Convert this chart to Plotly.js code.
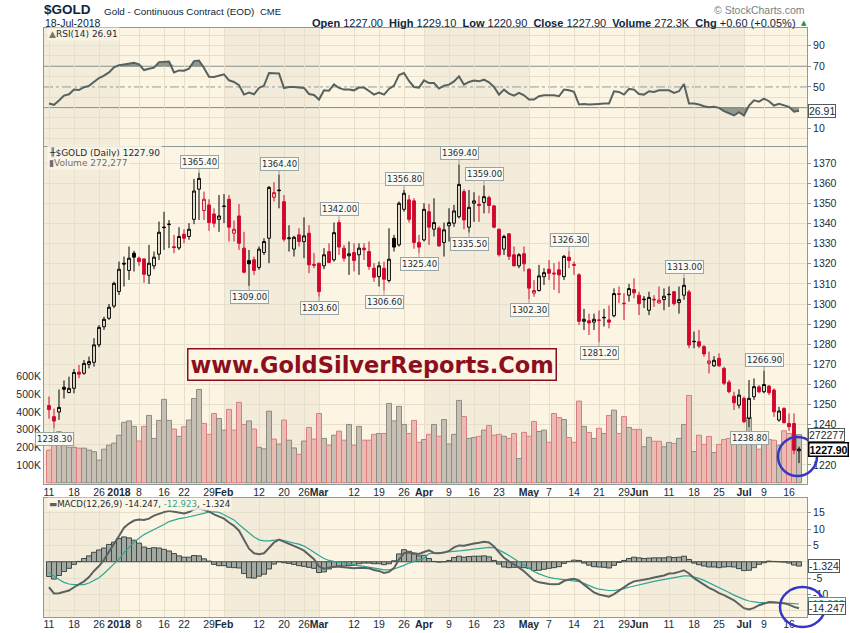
<!DOCTYPE html>
<html><head><meta charset="utf-8">
<script src="https://cdn.plot.ly/plotly-3.0.1.min.js"></script>
<style>html,body{margin:0;padding:0;background:#fff}#chart{width:850px;height:633px}</style>
</head><body><div id="chart"></div>
<script>
const dates = ["2017-12-11","2017-12-12","2017-12-13","2017-12-14","2017-12-15","2017-12-18","2017-12-19","2017-12-20","2017-12-21","2017-12-22","2017-12-26","2017-12-27","2017-12-28","2017-12-29",
"2018-01-02","2018-01-03","2018-01-04","2018-01-05","2018-01-08","2018-01-09","2018-01-10","2018-01-11","2018-01-12","2018-01-16","2018-01-17","2018-01-18","2018-01-19","2018-01-22","2018-01-23","2018-01-24","2018-01-25","2018-01-26","2018-01-29","2018-01-30","2018-01-31",
"2018-02-01","2018-02-02","2018-02-05","2018-02-06","2018-02-07","2018-02-08","2018-02-09","2018-02-12","2018-02-13","2018-02-14","2018-02-15","2018-02-16","2018-02-20","2018-02-21","2018-02-22","2018-02-23","2018-02-26","2018-02-27","2018-02-28",
"2018-03-01","2018-03-02","2018-03-05","2018-03-06","2018-03-07","2018-03-08","2018-03-09","2018-03-12","2018-03-13","2018-03-14","2018-03-15","2018-03-16","2018-03-19","2018-03-20","2018-03-21","2018-03-22","2018-03-23","2018-03-26","2018-03-27","2018-03-28","2018-03-29",
"2018-04-02","2018-04-03","2018-04-04","2018-04-05","2018-04-06","2018-04-09","2018-04-10","2018-04-11","2018-04-12","2018-04-13","2018-04-16","2018-04-17","2018-04-18","2018-04-19","2018-04-20","2018-04-23","2018-04-24","2018-04-25","2018-04-26","2018-04-27","2018-04-30",
"2018-05-01","2018-05-02","2018-05-03","2018-05-04","2018-05-07","2018-05-08","2018-05-09","2018-05-10","2018-05-11","2018-05-14","2018-05-15","2018-05-16","2018-05-17","2018-05-18","2018-05-21","2018-05-22","2018-05-23","2018-05-24","2018-05-25","2018-05-29","2018-05-30","2018-05-31",
"2018-06-01","2018-06-04","2018-06-05","2018-06-06","2018-06-07","2018-06-08","2018-06-11","2018-06-12","2018-06-13","2018-06-14","2018-06-15","2018-06-18","2018-06-19","2018-06-20","2018-06-21","2018-06-22","2018-06-25","2018-06-26","2018-06-27","2018-06-28","2018-06-29",
"2018-07-02","2018-07-03","2018-07-05","2018-07-06","2018-07-09","2018-07-10","2018-07-11","2018-07-12","2018-07-13","2018-07-16","2018-07-17","2018-07-18"];

const open = [1249.5,1244.0,1246.3,1258.6,1256.0,1258.1,1266.1,1265.6,1270.0,1271.0,
1279.7,1288.7,1292.9,1299.0,1306.2,1320.3,1316.7,1325.3,1322.8,1322.4,
1314.3,1319.0,1324.8,1338.3,1339.5,1328.5,1327.9,1334.7,1333.6,1342.1,
1357.1,1346.5,1349.3,1344.8,1342.1,1348.8,1352.1,1335.2,1343.8,1327.8,
1321.6,1322.0,1318.2,1325.6,1332.7,1353.1,1356.7,1350.9,1332.5,1327.3,
1334.4,1331.0,1335.2,1319.7,1320.3,1319.0,1326.1,1322.0,1340.5,1327.8,
1324.0,1325.6,1324.5,1327.8,1326.1,1317.8,1313.6,1317.8,1311.7,1332.7,
1329.4,1347.1,1351.8,1351.3,1330.6,1331.9,1345.9,1337.2,1337.7,1330.6,
1338.9,1340.2,1343.4,1355.9,1338.2,1350.1,1349.6,1350.5,1352.9,1348.8,
1337.2,1327.3,1334.9,1324.5,1319.0,1325.0,1317.3,1305.4,1306.7,1313.6,
1317.3,1315.4,1317.0,1313.6,1323.3,1319.7,1314.5,1291.4,1291.7,1291.0,
1292.1,1293.4,1292.1,1294.2,1305.1,1300.4,1304.4,1307.2,1304.4,1302.5,
1296.9,1302.4,1300.5,1302.2,1304.9,1306.1,1300.7,1304.4,1306.0,1281.5,
1281.3,1278.8,1270.5,1269.3,1273.0,1268.0,1261.1,1254.2,1249.7,1253.1,
1243.1,1253.9,1258.8,1256.4,1259.2,1257.2,1242.3,1248.1,1240.6,1240.6,
1227.0];
const high = [1254.0,1248.0,1257.5,1262.0,1263.9,1267.7,1269.7,1272.2,1273.9,1283.0,
1289.5,1293.7,1300.0,1311.1,1321.1,1323.6,1328.6,1326.5,1323.6,1322.8,
1329.4,1326.1,1341.0,1345.9,1341.8,1334.4,1338.2,1337.2,1340.2,1362.2,
1365.4,1355.9,1352.1,1347.6,1354.2,1354.7,1354.2,1341.5,1349.8,1335.9,
1326.9,1323.6,1328.6,1332.7,1358.7,1360.6,1364.4,1354.2,1339.2,1333.9,
1337.7,1343.1,1339.2,1325.3,1320.5,1327.8,1330.2,1340.5,1342.0,1329.4,
1331.1,1330.2,1330.2,1330.2,1331.1,1320.3,1321.1,1321.1,1337.7,1334.4,
1351.0,1356.8,1354.2,1352.6,1334.4,1350.1,1349.8,1352.6,1338.7,1340.5,
1347.6,1349.3,1369.4,1357.1,1356.7,1355.6,1353.9,1359.0,1353.9,1349.3,
1337.5,1334.4,1335.2,1328.6,1325.3,1328.6,1317.8,1311.9,1319.5,1317.8,
1321.9,1320.3,1321.1,1324.4,1326.3,1321.1,1315.3,1297.6,1295.2,1295.2,
1296.8,1297.6,1299.3,1307.8,1308.7,1305.4,1310.0,1312.8,1306.1,1304.0,
1306.1,1304.4,1308.7,1307.8,1308.7,1306.5,1308.7,1313.0,1307.0,1286.3,
1287.1,1279.6,1276.3,1274.1,1275.5,1268.8,1262.2,1256.4,1257.6,1254.0,
1262.2,1263.0,1259.7,1266.9,1259.7,1258.1,1248.9,1248.6,1245.6,1245.6,
1229.1];
const low = [1243.0,1238.3,1242.4,1253.0,1255.6,1255.6,1263.1,1264.8,1268.0,1268.9,
1278.5,1287.1,1292.1,1298.0,1304.5,1308.7,1312.0,1316.2,1319.0,1310.6,
1310.0,1317.3,1321.9,1326.9,1327.8,1325.3,1326.9,1330.2,1331.9,1339.7,
1341.8,1341.8,1336.4,1338.1,1335.9,1340.2,1331.1,1331.1,1326.9,1315.3,
1309.0,1314.5,1317.0,1324.4,1320.3,1351.0,1347.6,1331.1,1326.1,1323.6,
1328.6,1322.8,1315.3,1317.8,1303.6,1317.3,1320.3,1321.1,1324.4,1321.1,
1314.5,1316.2,1314.5,1321.9,1317.0,1311.1,1308.7,1306.6,1310.7,1326.1,
1328.6,1345.9,1340.5,1327.5,1325.4,1331.1,1329.4,1333.6,1328.6,1323.6,
1331.1,1338.4,1342.6,1337.2,1335.5,1340.9,1340.9,1345.1,1345.1,1337.7,
1323.6,1324.4,1321.9,1318.7,1317.8,1316.2,1302.3,1303.6,1306.2,1309.5,
1311.9,1307.0,1305.4,1311.9,1317.8,1314.5,1289.6,1287.1,1284.6,1287.1,
1281.2,1288.8,1287.9,1293.4,1300.4,1292.1,1301.2,1302.9,1294.5,1298.0,
1294.5,1298.6,1300.4,1296.9,1298.6,1299.3,1295.2,1302.1,1278.0,1278.0,
1278.0,1273.8,1265.5,1268.8,1268.8,1259.7,1255.6,1247.3,1248.1,1240.8,
1238.8,1252.3,1255.6,1255.6,1254.8,1243.9,1241.5,1240.6,1237.0,1225.3,
1220.9];
const close = [1247.5,1241.8,1248.6,1257.6,1258.1,1266.0,1265.1,1270.5,1271.4,1279.7,
1288.4,1292.4,1298.4,1310.3,1317.3,1319.9,1322.8,1323.3,1321.1,1314.8,
1320.3,1323.3,1335.7,1338.0,1339.7,1328.1,1333.6,1332.7,1337.2,1356.2,
1362.5,1352.1,1340.5,1340.2,1343.8,1348.5,1338.2,1337.2,1330.2,1315.8,
1320.0,1316.7,1327.3,1331.1,1358.0,1355.4,1356.4,1332.2,1332.9,1333.2,
1331.1,1333.9,1319.5,1319.3,1306.2,1324.5,1320.7,1335.5,1328.3,1322.8,
1325.0,1321.6,1327.8,1327.0,1318.7,1313.3,1319.0,1312.3,1322.3,1328.3,
1350.1,1355.1,1342.1,1330.6,1328.3,1347.1,1338.2,1340.5,1328.9,1336.9,
1340.5,1346.3,1359.5,1341.8,1348.1,1351.3,1349.0,1353.4,1349.0,1338.2,
1324.5,1333.6,1323.7,1319.0,1324.5,1320.0,1307.9,1306.7,1314.0,1315.6,
1315.3,1315.0,1314.5,1323.7,1321.6,1319.3,1291.4,1292.4,1290.6,1292.4,
1291.9,1293.2,1291.0,1305.2,1304.9,1300.2,1307.7,1305.6,1300.2,1302.2,
1303.3,1302.1,1301.9,1303.9,1304.7,1300.2,1302.2,1309.3,1279.6,1281.3,
1279.1,1275.2,1271.7,1272.0,1269.3,1260.6,1256.4,1250.9,1254.7,1241.5,
1253.1,1258.9,1256.4,1260.0,1255.9,1246.4,1246.8,1241.0,1239.0,1227.3,
1227.9];
const volume = [185000,240000,289000,227000,201000,201000,196000,196000,185000,176000,
128000,190000,213000,224000,269000,342000,350000,319000,236000,319000,
381000,251000,353000,472000,353000,304000,263000,317000,355000,477000,
528000,336000,274000,392000,364000,298000,415000,298000,455000,330000,
350000,304000,201000,192000,405000,247000,219000,355000,241000,197000,
161000,236000,313000,247000,392000,251000,213000,269000,292000,241000,
330000,213000,319000,241000,241000,274000,279000,279000,449000,350000,
432000,330000,279000,353000,229000,245000,274000,330000,263000,358000,
219000,274000,466000,375000,251000,256000,263000,298000,324000,269000,
274000,263000,251000,279000,137000,285000,263000,347000,290000,298000,
229000,392000,369000,358000,256000,229000,462000,319000,285000,251000,
308000,279000,381000,411000,279000,375000,313000,302000,302000,204000,
257000,235000,235000,204000,228000,222000,251000,330000,494000,177000,
269000,217000,262000,171000,217000,245000,251000,256000,217000,268000,
370000,245000,190000,279000,245000,241000,213000,294000,279000,230000,
272277];
const rsi = [34.0,32.7,36.9,41.6,42.9,47.4,47.0,49.7,51.0,54.5,
58.6,60.9,64.1,68.9,71.1,71.8,72.7,73.4,71.8,66.3,
67.6,68.6,74.0,74.3,74.6,64.1,66.0,65.7,67.6,75.0,
75.6,68.3,59.9,59.6,60.6,62.2,56.4,54.8,51.6,42.6,
44.5,42.9,49.0,51.3,63.4,63.1,63.1,49.0,50.0,50.0,
49.4,49.0,43.2,42.2,37.8,46.7,46.4,52.5,49.0,47.4,
47.4,46.7,49.4,49.4,46.1,42.6,44.5,42.6,48.1,51.3,
61.5,63.4,55.8,50.0,49.4,56.4,53.8,53.8,48.4,51.3,
52.2,55.4,60.2,52.2,54.8,56.1,55.4,57.0,54.5,50.0,
42.6,47.4,43.6,41.6,44.2,41.9,37.8,37.8,41.0,41.9,
41.9,41.9,41.0,47.4,46.7,45.2,33.0,33.6,33.0,33.6,
33.6,33.9,33.9,45.8,45.2,42.6,48.1,47.4,43.2,42.6,
45.8,45.2,46.7,46.7,46.7,44.2,45.8,52.9,33.9,33.9,
33.0,31.3,30.4,30.8,29.8,26.6,24.3,22.4,25.6,22.4,
32.0,37.1,35.8,38.7,36.2,32.0,33.6,32.0,30.8,26.0,
26.91];
const macd = [-7.8,-9.7,-9.6,-9.3,-8.8,-7.8,-7.0,-6.0,-4.7,-2.8,
-1.3,0.6,3.1,5.3,7.9,10.4,11.7,12.6,12.9,12.8,
13.2,14.1,14.7,15.2,15.6,15.3,15.0,14.8,15.2,16.0,
16.3,15.8,15.4,14.5,13.9,13.2,12.0,11.0,9.5,6.5,
4.0,2.6,2.3,2.6,4.2,5.9,6.8,6.2,5.5,4.9,
4.2,3.4,2.2,0.8,-1.4,-2.1,-1.8,-1.5,-1.5,-1.7,
-1.8,-2.0,-1.8,-1.8,-2.0,-2.5,-2.8,-3.4,-3.1,-1.9,
0.7,2.6,2.8,2.6,2.4,3.0,3.5,2.7,2.6,2.8,
3.3,4.4,5.0,4.9,5.3,5.6,5.8,6.1,5.9,4.7,
2.9,1.2,0.1,-0.8,-1.8,-2.9,-4.2,-5.7,-6.3,-6.6,
-6.8,-6.9,-6.8,-5.9,-5.4,-5.2,-5.7,-7.0,-8.35,-9.4,
-10.0,-10.4,-10.7,-9.9,-8.8,-7.8,-6.8,-6.0,-5.8,-5.6,
-5.2,-4.8,-4.5,-4.2,-3.6,-3.5,-3.1,-2.6,-3.6,-5.0,
-6.0,-7.0,-8.0,-8.7,-9.6,-10.2,-10.9,-11.8,-13.0,-14.2,
-14.6,-14.1,-13.3,-12.8,-12.3,-12.4,-12.5,-12.7,-13.1,-13.8,
-14.247];
const signal = [-3.3,-4.4,-5.4,-6.3,-6.8,-7.0,-7.1,-7.0,-6.5,-5.7,
-4.9,-3.6,-2.2,-0.7,0.8,2.8,4.4,6.0,7.2,8.3,
9.1,9.8,10.5,11.4,12.3,12.8,13.2,13.4,13.8,14.1,
14.5,14.9,15.2,15.3,15.1,14.4,13.7,12.8,11.4,10.1,
8.9,7.6,6.7,6.4,6.4,6.6,6.8,6.5,6.0,5.7,
5.4,4.8,3.9,2.8,1.9,1.0,0.4,0.1,-0.2,-0.4,
-0.6,-0.9,-1.2,-1.4,-1.6,-1.9,-2.2,-2.5,-2.5,-2.2,
-1.7,-1.1,-0.4,0.2,0.6,1.0,2.5,2.6,2.7,2.8,
2.9,3.1,3.3,3.5,3.7,3.9,4.1,4.3,4.4,4.3,
3.6,2.8,1.9,0.9,-0.1,-1.1,-2.2,-3.0,-3.7,-4.3,
-4.8,-5.1,-5.3,-5.4,-5.5,-5.7,-6.1,-6.6,-7.3,-7.9,
-8.4,-8.7,-8.8,-8.8,-8.6,-8.2,-7.8,-7.4,-7.0,-6.6,
-6.3,-6.0,-5.7,-5.4,-5.1,-4.8,-4.5,-4.3,-4.3,-4.6,
-5.1,-5.7,-6.4,-7.1,-7.8,-8.6,-9.4,-10.2,-10.9,-11.5,
-12.0,-12.3,-12.5,-12.5,-12.5,-12.5,-12.5,-12.6,-12.7,-12.8,
-12.923];

const tickDates = ["2017-12-11","2017-12-18","2017-12-26","2018-01-02","2018-01-08","2018-01-16","2018-01-22","2018-01-29","2018-02-01","2018-02-12","2018-02-20","2018-02-26","2018-03-01","2018-03-12","2018-03-19","2018-03-26","2018-04-02","2018-04-09","2018-04-16","2018-04-23","2018-05-01","2018-05-07","2018-05-14","2018-05-21","2018-05-29","2018-06-01","2018-06-11","2018-06-18","2018-06-25","2018-07-02","2018-07-09","2018-07-16"];
const tickLabels = ["11","18","26","<b>2018</b>","8","16","22","29","<b>Feb</b>","12","20","26","<b>Mar</b>","12","19","26","<b>Apr</b>","9","16","23","<b>May</b>","7","14","21","29","<b>Jun</b>","11","18","25","<b>Jul</b>","9","16"];
const priceTicks = [1220,1240,1250,1260,1270,1280,1290,1300,1310,1320,1330,1340,1350,1360,1370];
const rsiTicks = [10,50,70,90];
const macdTicks = [-10,-5,5,10,15];

const labelDates = ["2017-12-12","2018-01-25","2018-02-08","2018-02-16","2018-03-01","2018-03-07","2018-03-20","2018-03-26","2018-03-29","2018-04-11","2018-04-13","2018-04-18","2018-05-01","2018-05-11","2018-05-21","2018-06-14","2018-07-03","2018-07-09"];
const labelKinds = ["L","H","L","H","L","H","L","H","L","H","L","H","L","H","L","H","L","H"];

// ---------- styling ----------
const TXT = '#1b2b38', GRID = '#e8dfca', BORDER = '#8d9a9a';
const BG_LIGHT = '#fcf5e3', BG_DARK = '#f3ecda';
const RED = '#d2062c', BLACK = '#000000';
const AX_FONT = {family:'Liberation Sans, Arial, sans-serif', size:10.5, color:TXT};
const SMALL = {family:'DejaVu Sans, Verdana, sans-serif', size:8.5, color:TXT};

const N = dates.length;
const up = close.map((c,i)=> i===0 ? c>=open[i] : c>=close[i-1]);
const pick = (arr, want) => arr.filter((_,i)=>up[i]===want);
const idxOf = d => dates.indexOf(d);

function candle(want, col){
  return {type:'candlestick', xaxis:'x', yaxis:'y3',
    x:pick(dates,want), open:pick(open,want), high:pick(high,want), low:pick(low,want), close:pick(close,want),
    increasing:{line:{color:col,width:1}, fillcolor:'rgba(0,0,0,0)'},
    decreasing:{line:{color:col,width:1}, fillcolor:col},
    whiskerwidth:0, hoverinfo:'skip', showlegend:false};
}
const hist = macd.map((m,i)=> m - signal[i]);
const lvl = v => dates.map(()=>v);

const traces = [
  {x:dates, y:lvl(70), xaxis:'x3', yaxis:'y', mode:'lines', line:{width:0}, hoverinfo:'skip', showlegend:false},
  {x:dates, y:rsi.map(v=>Math.max(v,70)), xaxis:'x3', yaxis:'y', mode:'lines', line:{width:0}, fill:'tonexty', fillcolor:'rgba(105,115,110,0.7)', hoverinfo:'skip', showlegend:false},
  {x:dates, y:lvl(30), xaxis:'x3', yaxis:'y', mode:'lines', line:{width:0}, hoverinfo:'skip', showlegend:false},
  {x:dates, y:rsi.map(v=>Math.min(v,30)), xaxis:'x3', yaxis:'y', mode:'lines', line:{width:0}, fill:'tonexty', fillcolor:'rgba(105,115,110,0.7)', hoverinfo:'skip', showlegend:false},
  {x:dates, y:rsi, xaxis:'x3', yaxis:'y', mode:'lines', line:{color:'#56625f', width:2}, hoverinfo:'skip', showlegend:false},
  {type:'bar', x:dates, y:volume, xaxis:'x', yaxis:'y2',
   marker:{color:up.map(u=>u?'#c5c0b3':'#ebbbb1'), line:{color:up.map(u=>u?'#8f8b82':'#da7d82'), width:1}},
   hoverinfo:'skip', showlegend:false},
  candle(true, BLACK),
  candle(false, RED),
  {type:'bar', x:dates, y:hist, xaxis:'x2', yaxis:'y4', marker:{color:'#a3a8a1', line:{color:'#3e4946', width:1}}, hoverinfo:'skip', showlegend:false},
  {x:dates, y:signal, xaxis:'x2', yaxis:'y4', mode:'lines', line:{color:'#2ea596', width:1.2}, hoverinfo:'skip', showlegend:false},
  {x:dates, y:macd, xaxis:'x2', yaxis:'y4', mode:'lines', line:{color:'#5a6260', width:2}, hoverinfo:'skip', showlegend:false}
];

// pixel helpers for layout-only placement (text, decorations)
const L=44, R=807, T=28, B=617;
const px = x => (x-L)/(R-L);
const py = y => (B-y)/(B-T);

const xRange = [-1, N + 0.6];
const baseX = {type:'category', categoryorder:'array', categoryarray:dates, range:xRange,
  tickmode:'array', tickvals:tickDates, ticktext:tickLabels, tickangle:0, showgrid:true, gridcolor:GRID, gridwidth:1,
  ticks:'', tickfont:AX_FONT, showline:true, linecolor:BORDER, linewidth:1, mirror:true, zeroline:false,
  rangeslider:{visible:false}, fixedrange:true};

const priceRange = [1210.5, 1378.1];
const volRange = [-7000, 1900000];
const priceGrid = [];
for (let p = 1220; p <= 1370; p += 10) priceGrid.push(p);
const volGrid = priceGrid.map(p => volRange[0] + (p-priceRange[0])/(priceRange[1]-priceRange[0])*(volRange[1]-volRange[0]));

const layout = {
  width:850, height:633, margin:{l:L, r:850-R, t:T, b:633-B, pad:0},
  paper_bgcolor:'#ffffff', plot_bgcolor:BG_LIGHT, showlegend:false,
  bargap:0, boxgap:0.2, font:AX_FONT,
  xaxis: Object.assign({}, baseX, {anchor:'y2', ticklabelstandoff:-2}),
  xaxis2: Object.assign({}, baseX, {anchor:'y4', matches:'x', ticklabelstandoff:-3}),
  xaxis3: Object.assign({}, baseX, {anchor:'y', matches:'x', showticklabels:false}),
  yaxis: {domain:[0.7997,1], anchor:'x3', side:'right', range:[-7.1,107],
    tickmode:'array', tickvals:rsiTicks, ticktext:rsiTicks.map(String),
    showgrid:false, zeroline:false, ticks:'outside', ticklen:3, tickcolor:BORDER,
    minor:{tickmode:'array', tickvals:[0,10,20,40,60,80,90,100], showgrid:true, gridcolor:GRID, ticks:''},
    tickfont:AX_FONT, showline:true, linecolor:BORDER, mirror:true, fixedrange:true},
  yaxis2: {domain:[0.2258,0.7980], anchor:'x', side:'left', range:volRange,
    tickmode:'array', tickvals:[100000,200000,300000,400000,500000,600000], ticktext:['100K','200K','300K','400K','500K','600K'],
    showgrid:false, zeroline:false, ticks:'', tickfont:AX_FONT, showline:true, linecolor:BORDER, mirror:true,
    minor:{tickmode:'array', tickvals:volGrid, showgrid:true, gridcolor:GRID, ticks:''}, fixedrange:true},
  yaxis3: {overlaying:'y2', anchor:'x', side:'right', range:priceRange, tickmode:'array', tickvals:priceTicks, ticktext:priceTicks.map(String),
    showgrid:false, zeroline:false, ticks:'outside', ticklen:3, tickcolor:BORDER, tickfont:AX_FONT, showline:false, fixedrange:true},
  yaxis4: {domain:[0,0.2020], anchor:'x2', side:'right', range:[-16.9,19.5],
    tickmode:'array', tickvals:macdTicks, ticktext:macdTicks.map(String),
    showgrid:false, zeroline:false, ticks:'outside', ticklen:3, tickcolor:BORDER,
    minor:{tickmode:'array', tickvals:[-15,-10,-5,0,5,10,15], showgrid:true, gridcolor:GRID, ticks:''},
    tickfont:AX_FONT, showline:true, linecolor:BORDER, mirror:true, fixedrange:true},
  shapes:[], annotations:[]
};

// month shading (alternate months darker), derived from the trading dates
const monthStarts = [];
dates.forEach((d,i)=>{ if (i===0 || d.slice(0,7)!==dates[i-1].slice(0,7)) monthStarts.push(i); });
monthStarts.forEach((s,k)=>{
  if (k % 2 !== 0) return;
  const x0 = k===0 ? xRange[0] : s;
  const x1 = k+1 < monthStarts.length ? monthStarts[k+1] : xRange[1];
  ['y domain','y2 domain','y4 domain'].forEach(yr=>{
    layout.shapes.push({type:'rect', xref:'x', yref:yr, x0:x0, x1:x1, y0:0, y1:1, fillcolor:BG_DARK, line:{width:0}, layer:'below'});
  });
});
// RSI reference lines
[[70,'solid','#86918f'],[30,'solid','#86918f'],[50,'dashdot','#929c9a']].forEach(([v,d,c])=>{
  layout.shapes.push({type:'line', xref:'paper', yref:'y', x0:0, x1:1, y0:v, y1:v, line:{color:c, width:1, dash:d}, layer:'below'});
});
// hand-drawn blue circles (decoration, placed in page pixels)
layout.shapes.push({type:'circle', xref:'paper', yref:'paper', x0:px(778), x1:px(817), y0:py(476), y1:py(437),
  line:{color:'#3436c8', width:2.5}, layer:'above'});
layout.shapes.push({type:'circle', xref:'paper', yref:'paper', x0:px(780), x1:px(825), y0:py(627), y1:py(587),
  line:{color:'#3436c8', width:2.5}, layer:'above'});

const A = layout.annotations;
const last = N-1;
const fmt = (v,d) => v.toFixed(d);
const chg = close[last]-close[last-1];
const HFONT = 'Liberation Sans, Arial, sans-serif';
A.push({xref:'paper', yref:'paper', x:px(42), y:py(10), xanchor:'left', yanchor:'middle', showarrow:false,
  text:'<b>$GOLD</b>', font:{family:HFONT, size:13.5, color:'#0f2638'}});
A.push({xref:'paper', yref:'paper', x:px(102), y:py(11), xanchor:'left', yanchor:'middle', showarrow:false,
  text:'Gold - Continuous Contract (EOD)', font:{family:HFONT, size:9.9, color:'#0f2638'}});
A.push({xref:'paper', yref:'paper', x:px(258), y:py(11), xanchor:'left', yanchor:'middle', showarrow:false,
  text:'CME', font:{family:HFONT, size:9.5, color:'#0f2638'}});
A.push({xref:'paper', yref:'paper', x:px(43), y:py(23.5), xanchor:'left', yanchor:'middle', showarrow:false,
  text:'18-Jul-2018', font:{family:HFONT, size:10.5, color:'#0f2638'}});
A.push({xref:'paper', yref:'paper', x:px(798), y:py(23), xanchor:'right', yanchor:'middle', showarrow:false,
  text:'<b>Open</b> '+fmt(open[last],2)+'  <b>High</b> '+fmt(high[last],2)+'  <b>Low</b> '+fmt(low[last],2)+
       '  <b>Close</b> '+fmt(close[last],2)+'  <b>Volume</b> '+fmt(volume[last]/1000,1)+'K  <b>Chg</b> '+(chg>=0?'+':'')+fmt(chg,2)+
       ' ('+(chg>=0?'+':'')+fmt(chg/close[last-1]*100,2)+'%)',
  font:{family:HFONT, size:11, color:'#0f2638'}});
A.push({xref:'paper', yref:'paper', x:px(799), y:py(23), xanchor:'left', yanchor:'middle', showarrow:false,
  text:'▲', font:{family:'DejaVu Sans', size:7, color:'#2c8a3a'}});
A.push({xref:'paper', yref:'paper', x:px(807), y:py(10), xanchor:'right', yanchor:'middle', showarrow:false,
  text:'© StockCharts.com', font:{family:HFONT, size:10.5, color:'#7b7f80'}});

const legBg = 'rgba(252,246,230,0.85)';
A.push({xref:'paper', yref:'paper', x:px(47), y:py(34), xanchor:'left', yanchor:'middle', showarrow:false, bgcolor:legBg,
  text:'<span style="color:#6f7a78">▲</span>RSI(14) '+fmt(rsi[last],2), font:{family:'DejaVu Sans', size:9, color:TXT}});
A.push({xref:'paper', yref:'paper', x:px(47), y:py(153), xanchor:'left', yanchor:'middle', showarrow:false, bgcolor:legBg,
  text:'<span style="color:#333">╫</span>$GOLD (Daily) '+fmt(close[last],2), font:{family:'DejaVu Sans', size:9, color:TXT}});
A.push({xref:'paper', yref:'paper', x:px(47), y:py(163), xanchor:'left', yanchor:'middle', showarrow:false, bgcolor:legBg,
  text:'▮Volume '+volume[last].toLocaleString('en-US'), font:{family:'DejaVu Sans', size:9, color:'#6e6e6e'}});
A.push({xref:'paper', yref:'paper', x:px(47), y:py(504), xanchor:'left', yanchor:'middle', showarrow:false, bgcolor:legBg,
  text:'<span style="color:#5a6260">▬</span>MACD(12,26,9) '+fmt(macd[last],3)+', <span style="color:#2ea596">'+fmt(signal[last],3)+'</span>, '+fmt(hist[last],3),
  font:{family:'DejaVu Sans', size:8.6, color:TXT}});

function tag(text, yref, y, col, border, bold){
  A.push({xref:'paper', yref:yref, x:px(808), y:y, xanchor:'left', yanchor:'middle', showarrow:false,
    text: bold?('<b>'+text+'</b>'):text, bgcolor:'#ffffff', bordercolor:border, borderwidth:bold?1.5:1, borderpad:0,
    font:{family:HFONT, size:10.5, color:col}});
}
tag(fmt(rsi[last],2), 'y', rsi[last], TXT, '#4e5c5c', false);
tag(String(volume[last]), 'y2', volume[last], TXT, '#4e5c5c', false);
tag(fmt(close[last],2), 'y3', close[last], '#000', '#000', true);
tag(fmt(hist[last],3), 'y4', hist[last], TXT, '#4e5c5c', false);
tag(fmt(signal[last],3), 'y4', signal[last], '#2ea596', '#2ea596', false);
tag(fmt(macd[last],3), 'y4', macd[last], TXT, '#4e5c5c', false);

labelDates.forEach((d,k)=>{
  const i = idxOf(d), isH = labelKinds[k]==='H', v = isH ? high[i] : low[i];
  A.push({x:d, y:v, xref:'x', yref:'y3', text:fmt(v,2), showarrow:true, arrowhead:0, arrowwidth:1, arrowcolor:'#9aa4a4',
    ax:0, ay:isH?-11:11, bgcolor:'#fbfaf2', bordercolor:'#9aa4a4', borderwidth:1, borderpad:1, font:SMALL});
});

A.push({xref:'paper', yref:'paper', x:px(372), y:py(364), xanchor:'center', yanchor:'middle', showarrow:false,
  text:'<b>www.GoldSilverReports.Com</b>', bgcolor:'#fdf6e4', bordercolor:'#8c0f1e', borderwidth:1.5, borderpad:2,
  font:{family:'DejaVu Sans, Verdana', size:22.5, color:'#8c0f1e'}});

Plotly.newPlot('chart', traces, layout, {displayModeBar:false, staticPlot:true});
</script></body></html>
